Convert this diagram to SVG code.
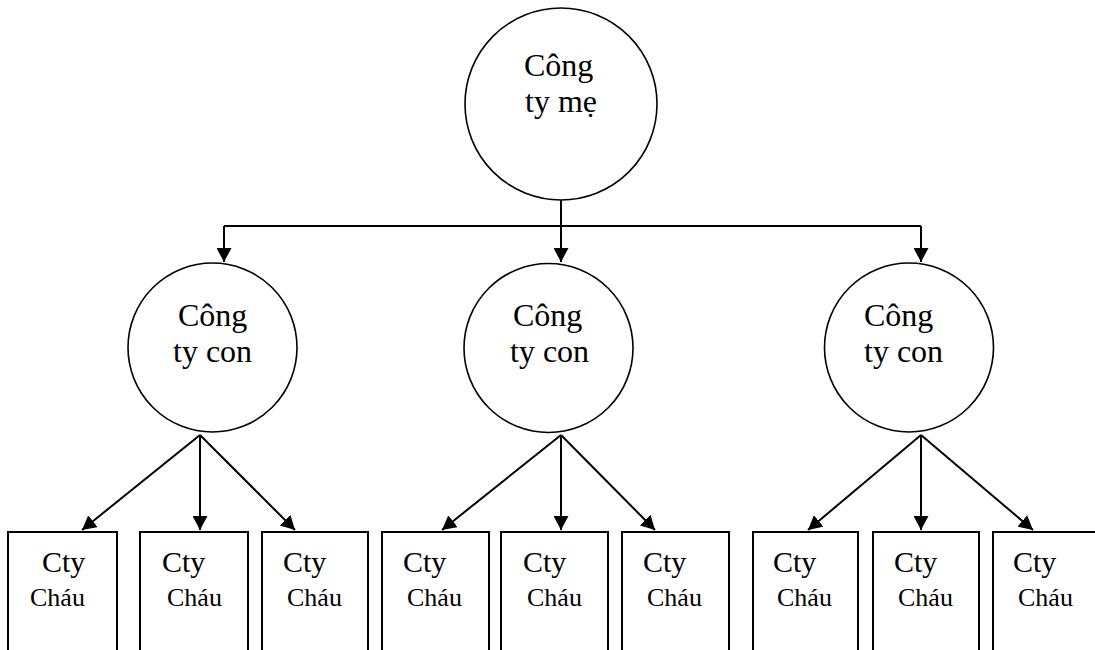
<svg xmlns="http://www.w3.org/2000/svg" width="1095" height="650" viewBox="0 0 1095 650">
<style>
.node{fill:#fff;stroke:#000;stroke-width:1.6}
.box{fill:#fff;stroke:#000;stroke-width:2}
.big{font-family:"Liberation Serif","Times New Roman",serif;font-size:32px;fill:#000}
.cty{font-family:"Liberation Serif","Times New Roman",serif;font-size:30px;fill:#000}
.chau{font-family:"Liberation Serif","Times New Roman",serif;font-size:26px;fill:#000}
.edge{fill:none;stroke:#000;stroke-width:2}
</style>
<defs>
<marker id="arr" markerUnits="userSpaceOnUse" markerWidth="15" markerHeight="15" refX="14" refY="7.5" orient="auto">
<path d="M0,0 L14,7.5 L0,15 z" fill="#000"/>
</marker>
</defs>
<g id="connectors">
<path class="edge" d="M224,226 H921"/>
<path class="edge" d="M561,200 V262" marker-end="url(#arr)"/>
<path class="edge" d="M224,226 V262" marker-end="url(#arr)"/>
<path class="edge" d="M921,226 V262" marker-end="url(#arr)"/>
<path class="edge" d="M200,435 L82,530" marker-end="url(#arr)"/>
<path class="edge" d="M200,435 V530" marker-end="url(#arr)"/>
<path class="edge" d="M200,435 L295,530" marker-end="url(#arr)"/>
<path class="edge" d="M561,435 L442,530" marker-end="url(#arr)"/>
<path class="edge" d="M561,435 V530" marker-end="url(#arr)"/>
<path class="edge" d="M561,435 L655,530" marker-end="url(#arr)"/>
<path class="edge" d="M921,435 L808,530" marker-end="url(#arr)"/>
<path class="edge" d="M921,435 V530" marker-end="url(#arr)"/>
<path class="edge" d="M921,435 L1033,530" marker-end="url(#arr)"/>
</g>
<g id="parent">
<circle class="node" cx="561" cy="104" r="96"/>
<text class="big" x="524" y="76">Công</text>
<text class="big" x="525" y="112">ty mẹ</text>
</g>
<g id="sub1">
<circle class="node" cx="212.5" cy="347.5" r="84.5"/>
<text class="big" x="178" y="326">Công</text>
<text class="big" x="173" y="362">ty con</text>
</g>
<g id="sub2">
<circle class="node" cx="548.5" cy="348" r="84.5"/>
<text class="big" x="513" y="326">Công</text>
<text class="big" x="510" y="362">ty con</text>
</g>
<g id="sub3">
<circle class="node" cx="909" cy="347.5" r="84.5"/>
<text class="big" x="864" y="326">Công</text>
<text class="big" x="864" y="362">ty con</text>
</g>
<g id="g1a"><rect class="box" x="8" y="532" width="109" height="130"/><text class="cty" x="42" y="572">Cty</text><text class="chau" x="30" y="606">Cháu</text></g>
<g id="g1b"><rect class="box" x="140" y="532" width="108" height="130"/><text class="cty" x="162" y="572">Cty</text><text class="chau" x="167" y="606">Cháu</text></g>
<g id="g1c"><rect class="box" x="262" y="532" width="106" height="130"/><text class="cty" x="283" y="572">Cty</text><text class="chau" x="287" y="606">Cháu</text></g>
<g id="g2a"><rect class="box" x="382" y="532" width="107" height="130"/><text class="cty" x="403" y="572">Cty</text><text class="chau" x="407" y="606">Cháu</text></g>
<g id="g2b"><rect class="box" x="501" y="532" width="107" height="130"/><text class="cty" x="523" y="572">Cty</text><text class="chau" x="527" y="606">Cháu</text></g>
<g id="g2c"><rect class="box" x="622" y="532" width="107" height="130"/><text class="cty" x="643" y="572">Cty</text><text class="chau" x="647" y="606">Cháu</text></g>
<g id="g3a"><rect class="box" x="753" y="532" width="105" height="130"/><text class="cty" x="773" y="572">Cty</text><text class="chau" x="777" y="606">Cháu</text></g>
<g id="g3b"><rect class="box" x="873" y="532" width="106" height="130"/><text class="cty" x="894" y="572">Cty</text><text class="chau" x="898" y="606">Cháu</text></g>
<g id="g3c"><rect class="box" x="993" y="532" width="110" height="130"/><text class="cty" x="1013" y="572">Cty</text><text class="chau" x="1018" y="606">Cháu</text></g>
</svg>
